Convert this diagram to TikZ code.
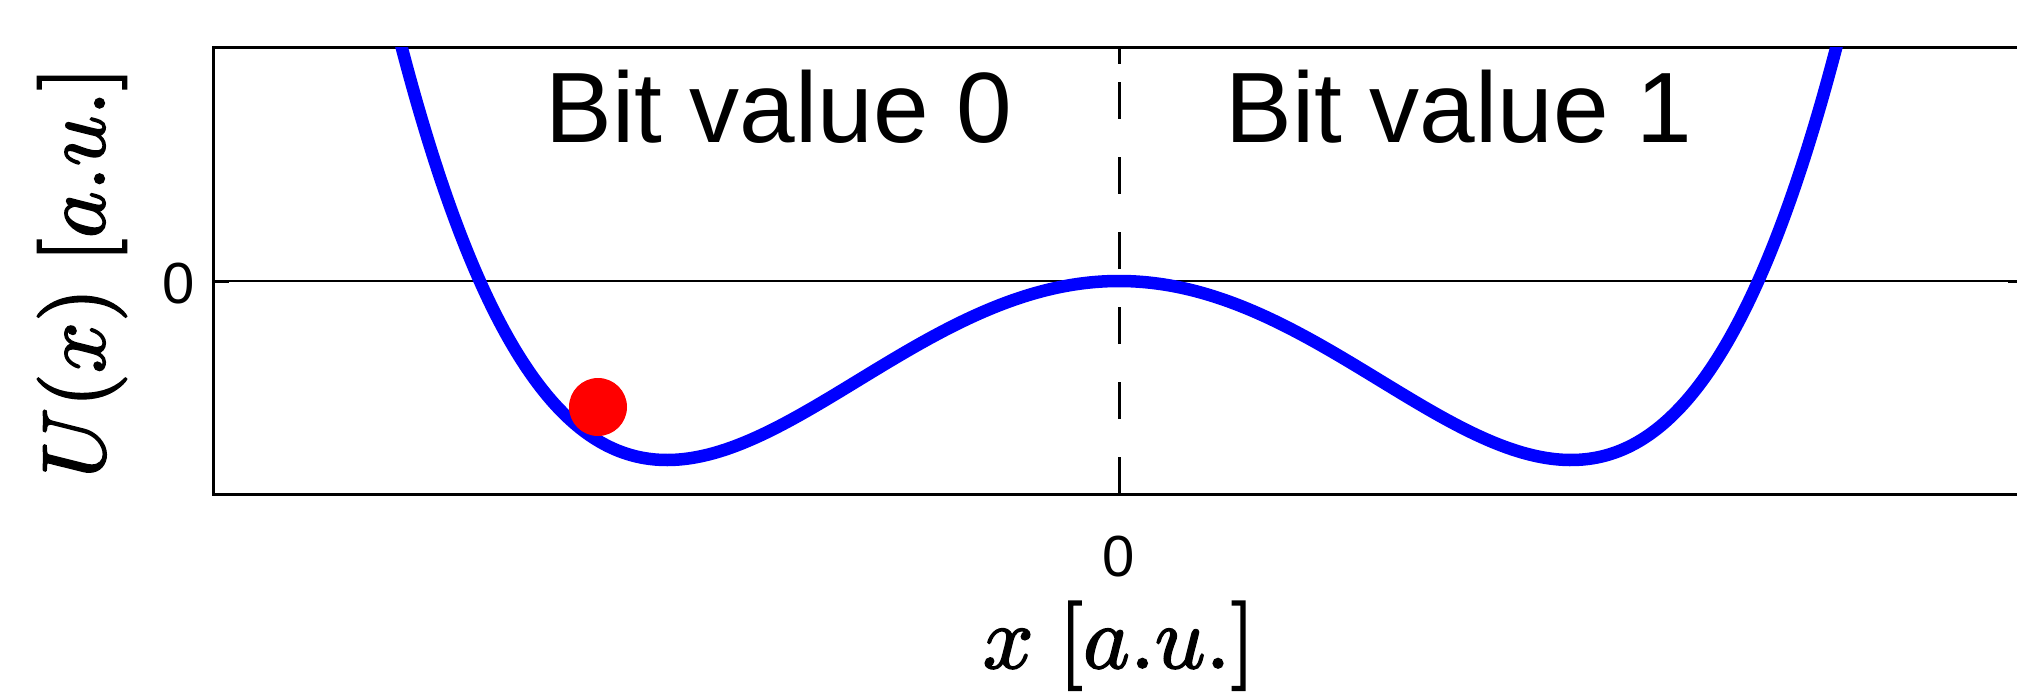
\documentclass[tikz,border=0pt]{standalone}
\usepackage{fontspec}
\setmainfont{Liberation Sans}
\newcommand{\heavytext}[1]{\special{pdf:literal direct 2 Tr 0.19 w}#1\special{pdf:literal direct 0 Tr}}
\begin{document}
\begin{tikzpicture}[x=1pt,y=-1pt,
  axisline/.style={line width=3pt, black, line cap=rect},
  zeroline/.style={line width=2.6pt, black},
  midline/.style={line width=3pt, black, dash pattern=on 37pt off 38pt},
  tickmark/.style={line width=3pt, black},
  curveline/.style={line width=12.5pt, color={rgb,255:red,0;green,0;blue,255}, line join=round},
  bitlabel/.style={font=\fontsize{100}{120}\selectfont, inner sep=0pt},
  ticklabel/.style={font=\fontsize{58}{70}\selectfont, inner sep=0pt},
  mathlabel/.style={font=\fontsize{10}{12}\selectfont, inner sep=0pt, scale=8.9},
  ballstyle/.style={circle, fill=red, draw=none, minimum size=58pt, inner sep=0pt}]
\useasboundingbox (0,0) rectangle (2017,695);
% axes frame
\coordinate (tl) at (213,48);
\coordinate (tr) at (2017,48);
\coordinate (bl) at (213,494);
\coordinate (br) at (2017,494);
\coordinate (zl) at (213,281);
\coordinate (zr) at (2017,281);
\coordinate (mb) at (1119,494);
\coordinate (mt) at (1119,48);
\draw[zeroline] (zl) -- (zr);
\draw[midline] (mb) -- (mt);
\draw[tickmark] (mb) -- ++(0,-16);
\draw[tickmark] (mt) -- ++(0,16);
\draw[tickmark] (zl) -- ++(16,0);
\draw[tickmark] (zr) -- ++(-9,0);
\draw[axisline] (tr) -- (tl) -- (bl) -- (br);
% potential curve
\begin{scope}
\clip (tl) rectangle (br);
\draw[curveline] plot[domain=-1.62:1.62, samples=241, variable=\s, smooth]
  ({1119+452*\s}, {281-179*(\s*\s*\s*\s-2*\s*\s)});
\end{scope}
% ball
\node[ballstyle] (ball) at (598,407) {};
% labels
\node[bitlabel, anchor=base] (bit0) at (779,143) {Bit value 0};
\node[bitlabel, anchor=base] (bit1) at (1459,143) {Bit value 1};
\node[ticklabel] (xtick) at (1119,557) {0};
\node[ticklabel] (ytick) at (179,284) {0};
\node[mathlabel, anchor=base] (xlab) at (1119,668) {\heavytext{$x\;[a.u.]$}};
\node[mathlabel, rotate=90] (ylab) at (82,272) {\heavytext{$U(x)\;[a.u.]$}};
\end{tikzpicture}
\end{document}
